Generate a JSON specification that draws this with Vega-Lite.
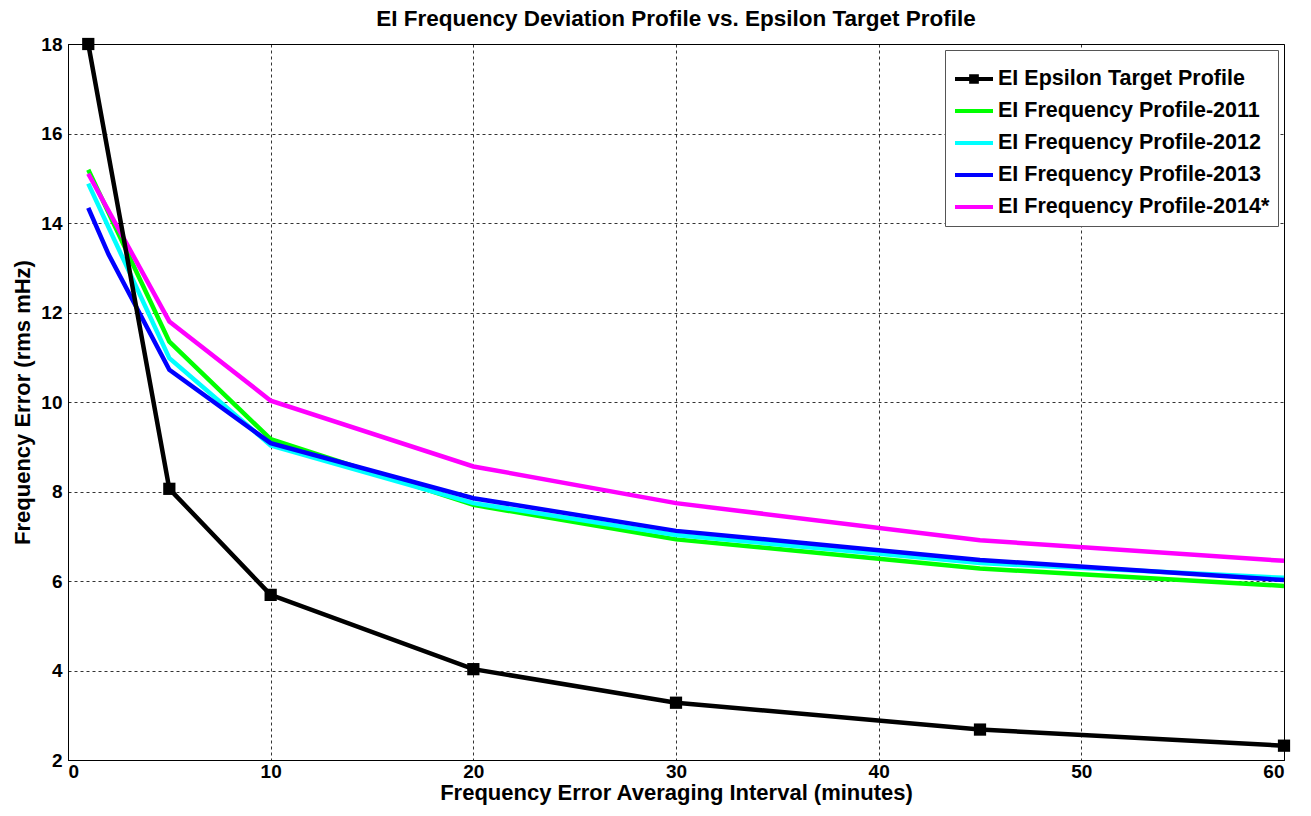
{
  "$schema": "https://vega.github.io/schema/vega-lite/v6.json",
  "width": 1216,
  "height": 716,
  "autosize": {"type": "none"},
  "padding": {"left": 68, "top": 44, "right": 27, "bottom": 56},
  "background": "white",
  "title": {
    "text": "EI Frequency Deviation Profile vs. Epsilon Target Profile",
    "font": "Liberation Sans",
    "fontSize": 22.5,
    "fontWeight": "bold",
    "color": "black",
    "anchor": "middle",
    "offset": 5
  },
  "config": {
    "view": {"stroke": "black", "strokeWidth": 1},
    "axis": {
      "labelFont": "Liberation Sans",
      "labelFontSize": 19,
      "labelFontWeight": "bold",
      "labelColor": "black",
      "titleFont": "Liberation Sans",
      "titleFontSize": 22,
      "titleFontWeight": "bold",
      "titleColor": "black",
      "domainColor": "black",
      "tickColor": "black",
      "gridColor": "black",
      "gridDash": [3, 3],
      "gridOpacity": 0.8,
      "gridWidth": 1,
      "tickSize": 0
    }
  },
  "data": {
    "values": [
      {"series": "EI Frequency Profile-2011", "x": 1, "y": 15.19},
      {"series": "EI Frequency Profile-2011", "x": 5, "y": 11.35},
      {"series": "EI Frequency Profile-2011", "x": 10, "y": 9.17},
      {"series": "EI Frequency Profile-2011", "x": 20, "y": 7.70},
      {"series": "EI Frequency Profile-2011", "x": 30, "y": 6.93},
      {"series": "EI Frequency Profile-2011", "x": 45, "y": 6.28},
      {"series": "EI Frequency Profile-2011", "x": 60, "y": 5.89},
      {"series": "EI Frequency Profile-2012", "x": 1, "y": 14.88},
      {"series": "EI Frequency Profile-2012", "x": 5, "y": 10.98},
      {"series": "EI Frequency Profile-2012", "x": 10, "y": 9.03},
      {"series": "EI Frequency Profile-2012", "x": 20, "y": 7.74},
      {"series": "EI Frequency Profile-2012", "x": 30, "y": 7.03},
      {"series": "EI Frequency Profile-2012", "x": 45, "y": 6.40},
      {"series": "EI Frequency Profile-2012", "x": 60, "y": 6.07},
      {"series": "EI Frequency Profile-2013", "x": 1, "y": 14.34},
      {"series": "EI Frequency Profile-2013", "x": 2, "y": 13.3},
      {"series": "EI Frequency Profile-2013", "x": 5, "y": 10.72},
      {"series": "EI Frequency Profile-2013", "x": 10, "y": 9.08},
      {"series": "EI Frequency Profile-2013", "x": 20, "y": 7.85},
      {"series": "EI Frequency Profile-2013", "x": 30, "y": 7.12},
      {"series": "EI Frequency Profile-2013", "x": 45, "y": 6.47},
      {"series": "EI Frequency Profile-2013", "x": 60, "y": 6.02},
      {"series": "EI Frequency Profile-2014*", "x": 1, "y": 15.1},
      {"series": "EI Frequency Profile-2014*", "x": 5, "y": 11.8},
      {"series": "EI Frequency Profile-2014*", "x": 10, "y": 10.03},
      {"series": "EI Frequency Profile-2014*", "x": 20, "y": 8.56},
      {"series": "EI Frequency Profile-2014*", "x": 30, "y": 7.74},
      {"series": "EI Frequency Profile-2014*", "x": 45, "y": 6.91},
      {"series": "EI Frequency Profile-2014*", "x": 60, "y": 6.45},
      {"series": "EI Epsilon Target Profile", "x": 1, "y": 18},
      {"series": "EI Epsilon Target Profile", "x": 5, "y": 8.06},
      {"series": "EI Epsilon Target Profile", "x": 10, "y": 5.69},
      {"series": "EI Epsilon Target Profile", "x": 20, "y": 4.03},
      {"series": "EI Epsilon Target Profile", "x": 30, "y": 3.28},
      {"series": "EI Epsilon Target Profile", "x": 45, "y": 2.68},
      {"series": "EI Epsilon Target Profile", "x": 60, "y": 2.32}
    ]
  },
  "layer": [
    {
      "mark": {"type": "line", "strokeWidth": 4.5, "clip": false},
      "encoding": {
        "x": {
          "field": "x", "type": "quantitative",
          "scale": {"domain": [0, 60], "nice": false},
          "axis": {"values": [0, 10, 20, 30, 40, 50, 60], "title": "Frequency Error Averaging Interval (minutes)", "labelPadding": 2, "titlePadding": 1}
        },
        "y": {
          "field": "y", "type": "quantitative",
          "scale": {"domain": [2, 18], "nice": false, "zero": false},
          "axis": {"values": [2, 4, 6, 8, 10, 12, 14, 16, 18], "title": "Frequency Error (rms mHz)", "labelPadding": 6, "titlePadding": 6}
        },
        "color": {
          "field": "series", "type": "nominal",
          "scale": {
            "domain": ["EI Epsilon Target Profile", "EI Frequency Profile-2011", "EI Frequency Profile-2012", "EI Frequency Profile-2013", "EI Frequency Profile-2014*"],
            "range": ["#000000", "#00FF00", "#00FFFF", "#0000FF", "#FF00FF"]
          },
          "legend": {
            "title": null,
            "orient": "top-right",
            "offset": 6,
            "fillColor": "white",
            "strokeColor": "#555555",
            "padding": 8,
            "labelFont": "Liberation Sans",
            "labelFontSize": 21.5,
            "labelFontWeight": "bold",
            "labelColor": "black",
            "labelLimit": 0,
            "labelOffset": 3,
            "symbolSize": 1444,
            "symbolStrokeWidth": 4,
            "rowPadding": -7,
            "encode": {
              "symbols": {
                "update": {
                  "shape": {"signal": "datum.value === 'EI Epsilon Target Profile' ? 'M-1,0H1M-0.15,-0.15H0.15V0.15H-0.15Z' : 'M-1,0H1'"},
                  "fill": {"signal": "datum.value === 'EI Epsilon Target Profile' ? 'black' : 'transparent'"}
                }
              }
            }
          }
        }
      }
    },
    {
      "transform": [{"filter": "datum.series === 'EI Epsilon Target Profile'"}],
      "mark": {"type": "point", "shape": "square", "filled": true, "size": 150, "color": "black", "opacity": 1, "clip": false},
      "encoding": {
        "x": {"field": "x", "type": "quantitative"},
        "y": {"field": "y", "type": "quantitative"}
      }
    }
  ]
}
